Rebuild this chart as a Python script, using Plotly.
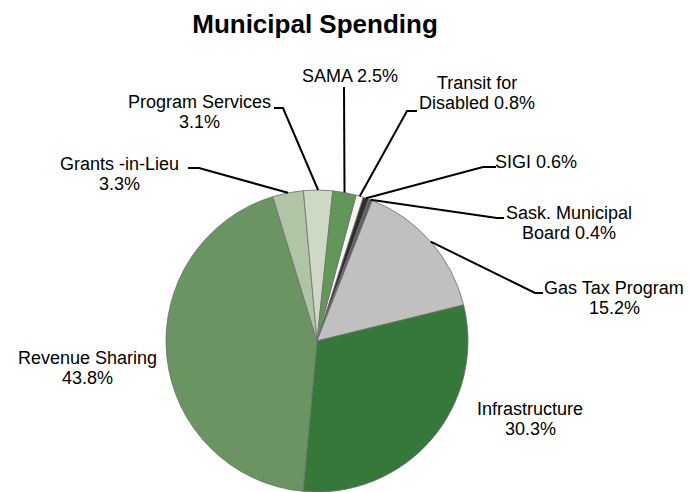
import math
import plotly.graph_objects as go

# ---------------- data ----------------
categories = ["Transit for Disabled", "SIGI", "Sask. Municipal Board", "Gas Tax Program",
              "Infrastructure", "Revenue Sharing", "Grants -in-Lieu", "Program Services", "SAMA"]
values = [0.8, 0.6, 0.4, 15.2, 30.3, 43.8, 3.3, 3.1, 2.5]
label_names = ["Transit for|Disabled", "SIGI", "Sask. Municipal|Board", "Gas Tax Program",
               "Infrastructure", "Revenue Sharing", "Grants -in-Lieu", "Program Services", "SAMA"]
label_sep = [" ", " ", " ", "|", "|", "|", "|", "|", " "]
colors = ["#f3f7ef", "#2e2e2e", "#5e5e5e", "#c0c0c0", "#36783a",
          "#6a9461", "#b0c4a6", "#cdd9c5", "#62975a"]

# ---------------- layout helpers ----------------
OFF = 8                      # page body margin offset
W, H = 691 - OFF, 492 - OFF  # figure size
ROT = 15.0                   # start angle of first slice (deg, clockwise from 12 o'clock)

def fx(x):                   # reference pixel -> figure pixel
    return x - OFF

dom_x = [fx(165) / W, fx(469) / W]
dom_y = [0.0, (H - fx(190)) / H]
cx = (dom_x[0] + dom_x[1]) / 2 * W
cy = H - (dom_y[0] + dom_y[1]) / 2 * H
R = min((dom_x[1] - dom_x[0]) * W, (dom_y[1] - dom_y[0]) * H) / 2

def px(x):
    return x / W

def py(y):
    return 1 - y / H

LINE_GAP = 20
# label centre x and first-line y (reference pixels)
label_pos = [(477, 83), (536, 162), (569, 213), (614, 288), (530, 409),
             (87, 358), (119, 164), (199, 102), (350, 76)]
# leader-line bends (reference pixels); None = no leader line
leader_bends = [
    [(407, 111), (417, 111)],
    [(483, 167), (496, 167)],
    [(497, 218), (504, 218)],
    [(535, 293), (543, 293)],
    None,
    None,
    [(199, 168), (188, 168)],
    [(283, 108), (274, 108)],
    [(344, 87)],
]

FONT = "Liberation Sans, Arial, sans-serif"

fig = go.Figure(go.Pie(
    labels=categories,
    values=values,
    sort=False,
    direction="clockwise",
    rotation=ROT,
    textinfo="none",
    hoverinfo="label+percent",
    marker=dict(colors=colors, line=dict(color="#6e6e6e", width=0.8)),
    domain=dict(x=dom_x, y=dom_y),
    showlegend=False,
))

total = sum(values)
cum = 0.0
shapes = []
annotations = []
for i, v in enumerate(values):
    mid = math.radians(ROT + (cum + v / 2) / total * 360)
    cum += v
    ex = cx + R * math.sin(mid)
    ey = cy - R * math.cos(mid)
    bends = leader_bends[i]
    if bends:
        path = f"M {px(ex)},{py(ey)}" + "".join(
            f" L {px(fx(bx))},{py(fx(by))}" for bx, by in bends)
        shapes.append(dict(type="path", xref="paper", yref="paper", path=path,
                           line=dict(color="black", width=2)))
    text = f"{label_names[i]}{label_sep[i]}{v:.1f}%"
    lx, ly = label_pos[i]
    for k, line in enumerate(text.split("|")):
        annotations.append(dict(
            x=px(fx(lx)), y=py(fx(ly + k * LINE_GAP)), xref="paper", yref="paper",
            text=line, showarrow=False, xanchor="center", yanchor="middle",
            font=dict(family=FONT, size=18, color="black"),
        ))

fig.update_layout(
    width=W, height=H,
    margin=dict(l=0, r=0, t=0, b=0),
    paper_bgcolor="white",
    plot_bgcolor="white",
    title=dict(text="<b>Municipal Spending</b>", x=px(fx(315)), xanchor="center",
               y=py(fx(24)), yanchor="middle", yref="container",
               font=dict(family=FONT, size=26, color="black")),
    shapes=shapes,
    annotations=annotations,
)

fig.write_html("out.html")
